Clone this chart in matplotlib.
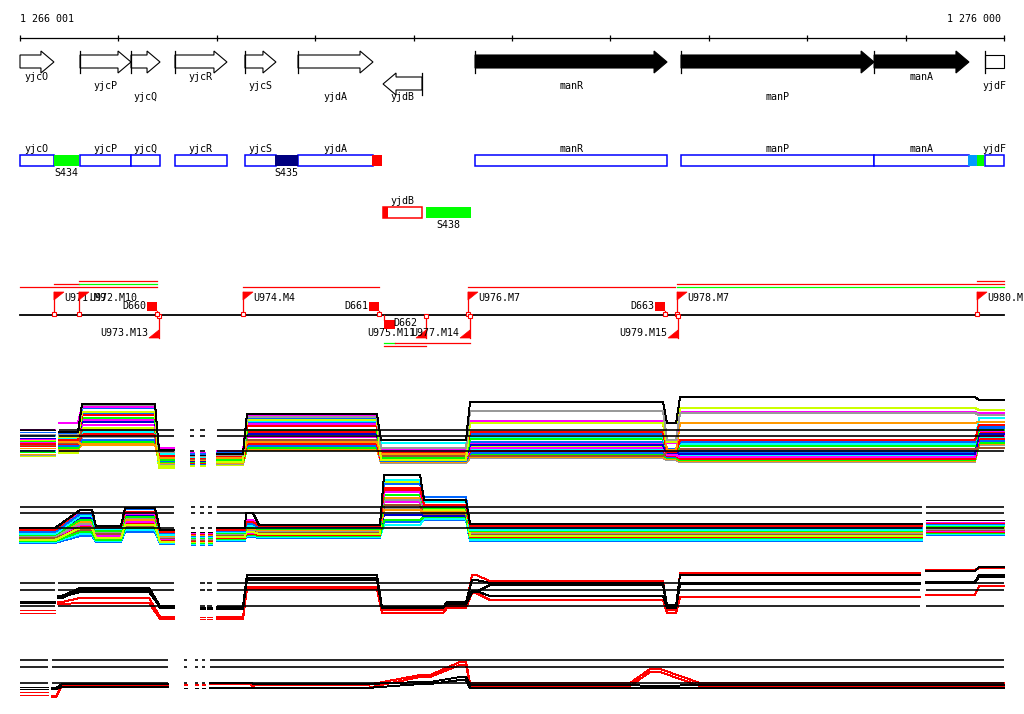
import numpy as np
import matplotlib.pyplot as plt
from matplotlib.patches import Polygon, Rectangle

### WINDOW ###
win_start, win_end = 1266001, 1276000

### GENES ###
gene_name = ["yjcO", "yjcP", "yjcQ", "yjcR", "yjcS", "yjdA", "yjdB", "manR", "manP", "manA", "yjdF"]
gene_start = [1265880, 1266611, 1267129, 1267576, 1268287, 1268826, 1269690, 1270625, 1272718, 1274680, 1275807]
gene_end = [1266346, 1267129, 1267424, 1268104, 1268602, 1269588, 1270086, 1272576, 1274680, 1275644, 1276350]
gene_strand = ["+", "+", "+", "+", "+", "+", "-", "+", "+", "+", "+"]
gene_fill = ["white"] * 7 + ["black"] * 3 + ["white"]
gene_label_row = [0, 1, 2, 0, 1, 2, 2, 1, 2, 0, 1]

### SEGMENT FEATURES ###
feat_name = ["S434", "S435", "", "", "S438", "", ""]
feat_start = [1266346, 1268592, 1269578, 1269690, 1270127, 1275634, 1275726]
feat_end = [1266600, 1268826, 1269679, 1269740, 1270584, 1275726, 1275797]
feat_color = ["#00ff00", "#000080", "#ff0000", "#ff0000", "#00ff00", "#0099ff", "#00ff00"]
feat_lane = [0, 0, 0, 1, 1, 0, 0]

### PROMOTERS / TERMINATORS ###
prom_name = ["U971.M9", "U972.M10", "U973.M13", "U974.M4", "U975.M11",
             "U976.M7", "U977.M14", "U978.M7", "U979.M15", "U980.M16"]
prom_pos = [1266346, 1266600, 1267413, 1268267, 1270127,
            1270553, 1270574, 1272678, 1272688, 1275726]
prom_strand = ["+", "+", "-", "+", "-", "+", "-", "+", "-", "+"]

term_name = ["D660", "D661", "D662", "D663"]
term_pos = [1267393, 1269649, 1269700, 1272556]
term_strand = ["+", "+", "-", "+"]

# transcription units (level 0-2 above the line, 3-4 below)
tx_start = [1266001, 1266346, 1266600, 1266600, 1268267, 1270553, 1272678, 1272678, 1275726, 1269700, 1269812, 1269700]
tx_end = [1267393, 1266600, 1267393, 1267393, 1269649, 1272660, 1276000, 1276000, 1276000, 1269812, 1270574, 1270127]
tx_level = [2, 1, 1, 0, 2, 2, 1, 2, 0, 3, 3, 4]
tx_color = ["#ff0000", "#ff0000", "#00ff00", "#ff0000", "#ff0000", "#ff0000",
            "#ff0000", "#00ff00", "#ff0000", "#00ff00", "#ff0000", "#ff0000"]

### EXPRESSION TRACKS ###
# track A: many conditions
a_x0 = [1266001, 1266397, 1266631, 1267413, 1267729, 1267830, 1268003, 1268307, 1269669, 1270574, 1272576, 1272708, 1275746]
a_x1 = [1266357, 1266590, 1267373, 1267566, 1267769, 1267881, 1268267, 1269628, 1270533, 1272535, 1272668, 1275705, 1276000]
a_grp = [0, 1, 1, 1, 2, 3, 4, 4, 4, 4, 4, 4, 4]
a_refs = [40, 34, 19]
a_lines = [
    ("#000000", [40, 38, 66, 20, 15, 15, 16, 56, 30, 68, 47, 73, 70]),
    ("#999999", [36, 35, 65, 18, 14, 14, 15, 53, 22, 59, 30, 57, 55]),
    ("#ccff00", [30, 33, 58, 4, 5, 5, 8, 50, 10, 47, 28, 62, 60]),
    ("#ff00ff", [41, 47, 63, 22, 18, 18, 19, 54, 20, 49, 27, 58, 57]),
    ("#ff9900", [22, 28, 25, 12, 10, 10, 12, 28, 16, 47, 20, 47, 48]),
    ("#ff0000", [27, 30, 55, 14, 12, 12, 14, 44, 17, 38, 18, 30, 45]),
    ("#0066ff", [38, 35, 62, 19, 16, 16, 17, 52, 21, 36, 21, 28, 44]),
    ("#00ffff", [34, 32, 58, 16, 13, 13, 15, 49, 27, 33, 20, 26, 52]),
    ("#00ff00", [29, 31, 52, 10, 8, 8, 10, 40, 12, 31, 19, 24, 40]),
    ("#a0522d", [25, 27, 40, 17, 11, 11, 13, 30, 14, 14, 18, 21, 22]),
    ("#0000cc", [32, 34, 48, 15, 9, 9, 12, 36, 13, 25, 17, 16, 36]),
    ("#ff00ff", [28, 30, 45, 13, 14, 14, 11, 33, 11, 22, 15, 13, 34]),
    ("#ff0000", [24, 26, 35, 11, 7, 7, 9, 26, 10, 19, 14, 11, 31]),
    ("#0066ff", [20, 24, 30, 9, 6, 6, 10, 24, 9, 17, 13, 18, 29]),
    ("#00ff00", [18, 22, 28, 8, 12, 12, 8, 22, 13, 15, 12, 10, 27]),
    ("#ff9900", [16, 20, 26, 7, 9, 9, 7, 20, 8, 13, 11, 9, 26]),
    ("#999999", [15, 19, 33, 6, 7, 7, 6, 21, 7, 12, 10, 8, 25]),
    ("#00ffff", [19, 23, 38, 5, 10, 10, 9, 23, 9, 20, 12, 14, 33]),
    ("#ccff00", [14, 17, 42, 2, 4, 4, 5, 27, 15, 24, 16, 12, 40]),
    ("#ff00ff", [31, 29, 50, 12, 16, 16, 14, 46, 18, 26, 17, 15, 39]),
    ("#ff0000", [26, 25, 37, 15, 13, 13, 12, 38, 12, 16, 13, 12, 37]),
    ("#0066ff", [35, 37, 56, 21, 17, 17, 18, 47, 19, 28, 16, 19, 42]),
]

# track B: many conditions
b_x0 = [1266001, 1266611, 1266773, 1267068, 1267424, 1267739, 1267830, 1267911, 1268003, 1268297, 1268430, 1269700, 1270107, 1270574, 1275207]
b_x1 = [1266357, 1266733, 1267027, 1267373, 1267566, 1267779, 1267871, 1267952, 1268287, 1268368, 1269659, 1270066, 1270533, 1275166, 1276000]
b_grp = [0, 0, 0, 0, 0, 1, 2, 3, 4, 4, 4, 4, 4, 4, 5]
b_refs = [43, 37, 22]
b_lines = [
    ("#000000", [22, 40, 24, 42, 20, 18, 18, 18, 22, 37, 25, 75, 50, 26, 30]),
    ("#ff0000", [20, 40, 23, 38, 18, 16, 16, 16, 20, 28, 24, 62, 45, 24, 27]),
    ("#0066ff", [18, 36, 22, 41, 17, 14, 14, 14, 19, 26, 23, 66, 53, 22, 26]),
    ("#00ffff", [16, 34, 21, 42, 15, 13, 13, 13, 18, 24, 22, 70, 48, 20, 25]),
    ("#ff00ff", [21, 37, 23, 36, 19, 17, 17, 17, 21, 30, 25, 58, 44, 24, 28]),
    ("#00ff00", [15, 30, 19, 33, 16, 12, 12, 12, 17, 22, 21, 55, 42, 19, 24]),
    ("#ccff00", [10, 22, 12, 25, 8, 8, 8, 8, 13, 18, 16, 68, 40, 14, 22]),
    ("#ff9900", [17, 28, 20, 30, 14, 15, 15, 15, 18, 21, 20, 40, 38, 18, 23]),
    ("#999999", [14, 26, 18, 32, 13, 11, 11, 11, 16, 20, 19, 50, 41, 17, 21]),
    ("#a0522d", [12, 20, 16, 24, 12, 10, 10, 10, 15, 18, 18, 45, 36, 16, 20]),
    ("#0000cc", [19, 32, 20, 35, 15, 14, 14, 14, 17, 23, 22, 35, 34, 21, 26]),
    ("#ff00ff", [13, 25, 14, 28, 11, 12, 12, 12, 14, 17, 17, 48, 37, 15, 19]),
    ("#ff0000", [11, 24, 13, 27, 10, 9, 9, 9, 12, 16, 15, 60, 39, 13, 18]),
    ("#00ff00", [9, 18, 10, 22, 9, 7, 7, 7, 11, 15, 14, 30, 33, 12, 17]),
    ("#00ffff", [8, 16, 9, 20, 7, 6, 6, 6, 10, 14, 13, 25, 31, 10, 16]),
    ("#0066ff", [7, 14, 8, 18, 6, 5, 5, 5, 9, 13, 12, 28, 30, 9, 15]),
    ("#ff9900", [13, 21, 15, 26, 12, 13, 13, 13, 14, 19, 18, 52, 35, 15, 21]),
    ("#999999", [10, 17, 11, 23, 9, 9, 9, 9, 12, 16, 16, 42, 32, 11, 18]),
]

# track C: black / red replicates
c_x0 = [1266001, 1266387, 1266611, 1267424, 1267830, 1267901, 1268003, 1268307, 1269679, 1270340, 1270594, 1270777, 1272576, 1272708, 1275207, 1275746]
c_x1 = [1266357, 1266427, 1267312, 1267566, 1267881, 1267952, 1268267, 1269628, 1270300, 1270533, 1270635, 1272535, 1272668, 1275146, 1275705, 1276000]
c_grp = [0, 1, 1, 1, 2, 3, 4, 4, 4, 4, 4, 4, 4, 4, 5, 5]
c_refs = [42, 35, 19]
c_lines = [
    ("#000000", [24, 29, 37, 19, 18, 18, 18, 50, 18, 23, 45, 42, 20, 50, 54, 58]),
    ("#000000", [22, 27, 35, 17, 16, 16, 16, 47, 17, 21, 33, 40, 18, 42, 43, 50]),
    ("#000000", [23, 28, 33, 18, 17, 17, 17, 45, 17, 22, 34, 29, 17, 41, 42, 48]),
    ("#ff0000", [15, 23, 27, 8, 8, 8, 8, 38, 15, 19, 50, 44, 15, 52, 55, 57]),
    ("#ff0000", [12, 21, 22, 6, 6, 6, 6, 36, 12, 17, 32, 25, 12, 28, 30, 39]),
]

# track D: black / red replicates
d_x0 = [1266001, 1266326, 1266427, 1267667, 1267779, 1267850, 1267932, 1268388, 1270066, 1270472, 1270574, 1272404, 1272911]
d_x1 = [1266286, 1266367, 1267505, 1267698, 1267810, 1267881, 1268338, 1269527, 1270168, 1270533, 1272200, 1272505, 1276000]
d_grp = [0, 1, 1, 2, 3, 4, 5, 5, 5, 5, 5, 5, 5]
d_refs = [40, 33, 17]
d_lines = [
    ("#000000", [13, 12, 16, 12, 12, 12, 17, 16, 18, 23, 15, 14, 15]),
    ("#000000", [11, 11, 13, 12, 12, 12, 12, 12, 16, 20, 12, 12, 12]),
    ("#ff0000", [8, 4, 15, 16, 16, 16, 17, 15, 25, 38, 17, 31, 17]),
    ("#ff0000", [5, 3, 14, 15, 15, 15, 16, 12, 23, 35, 14, 28, 14]),
]

### FIGURE ###
plt.rcParams["font.family"] = "DejaVu Sans Mono"
FS = 7.2

fig = plt.figure(figsize=(10.24, 7.14), dpi=100)
ax = fig.add_axes([0, 0, 1, 1])
bpp = (win_end - win_start) / 984.0  # bp per pixel
ax.set_xlim(win_start - 20 * bpp, win_end + 20 * bpp)
ax.set_ylim(714, 0)
ax.axis("off")

# ruler
ax.plot([win_start, win_end], [38, 38], color="black", lw=0.9)
ticks = list(range(win_start, win_end, 1000)) + [win_end]
ax.vlines(ticks, 35, 41, color="black", lw=0.9)
ax.text(win_start, 19, f"{win_start:,}".replace(",", " "), fontsize=FS, va="center", ha="left")
ax.text(win_end - 3 * bpp, 19, f"{win_end:,}".replace(",", " "), fontsize=FS, va="center", ha="right")

# gene arrows
label_y = [77, 86, 97.5]
head = 13 * bpp
for name, s, e, st, fc, row in zip(gene_name, gene_start, gene_end, gene_strand, gene_fill, gene_label_row):
    off = 22 if st == "-" else 0
    bt, bb, ht, hb, mid = 55 + off, 68 + off, 51 + off, 73 + off, 62 + off
    vs, ve = max(s, win_start), min(e, win_end)
    if st == "+":
        if e <= win_end:
            pts = [(vs, bt), (ve - head, bt), (ve - head, ht), (ve, mid), (ve - head, hb), (ve - head, bb), (vs, bb)]
        else:
            pts = [(vs, bt), (ve, bt), (ve, bb), (vs, bb)]
        tick_x = s if s >= win_start else None
    else:
        pts = [(ve, bt), (vs + head, bt), (vs + head, ht), (vs, mid), (vs + head, hb), (vs + head, bb), (ve, bb)]
        tick_x = e
    ax.add_patch(Polygon(pts, closed=True, facecolor=fc, edgecolor="black", lw=0.8))
    if tick_x is not None:
        ax.plot([tick_x, tick_x], [ht, hb], color="black", lw=0.9)
    ax.text((vs + ve) / 2, label_y[row], name, fontsize=FS, ha="center", va="center")

# annotation boxes
lane_top = [155, 207]
box_h = 11
for name, s, e, st in zip(gene_name, gene_start, gene_end, gene_strand):
    vs, ve = max(s, win_start), min(e, win_end)
    lane = 1 if st == "-" else 0
    ec = "#ff0000" if st == "-" else "#0000ff"
    ax.add_patch(Rectangle((vs, lane_top[lane]), ve - vs, box_h, facecolor="white", edgecolor=ec, lw=1.1, zorder=2))
    ax.text((vs + ve) / 2, lane_top[lane] - 6, name, fontsize=FS, ha="center", va="center")
for name, s, e, c, lane in zip(feat_name, feat_start, feat_end, feat_color, feat_lane):
    ax.add_patch(Rectangle((s, lane_top[lane]), e - s, box_h, facecolor=c, edgecolor="none", zorder=3))
    if name:
        ax.text((s + e) / 2, lane_top[lane] + box_h + 7, name, fontsize=FS, ha="center", va="center")

# promoter / terminator line
line_y = 315
ax.plot([win_start, win_end], [line_y, line_y], color="black", lw=1.3, zorder=2)
red = "#ff0000"
fw = 10 * bpp
for name, p, st in zip(prom_name, prom_pos, prom_strand):
    if st == "+":
        ax.plot([p, p], [line_y, 292], color=red, lw=0.9, zorder=3)
        ax.add_patch(Polygon([(p, 292), (p + fw, 292), (p, 300)], closed=True, facecolor=red, edgecolor=red, lw=0.5, zorder=3))
        ax.add_patch(Rectangle((p - 2 * bpp, line_y - 3), 4 * bpp, 4, facecolor="white", edgecolor=red, lw=0.8, zorder=4))
        ax.text(p + fw, 298, name, fontsize=FS, ha="left", va="center")
    else:
        ax.plot([p, p], [line_y, 338], color=red, lw=0.9, zorder=3)
        ax.add_patch(Polygon([(p, 338), (p - fw, 338), (p, 330)], closed=True, facecolor=red, edgecolor=red, lw=0.5, zorder=3))
        ax.add_patch(Rectangle((p - 2 * bpp, line_y - 1), 4 * bpp, 4, facecolor="white", edgecolor=red, lw=0.8, zorder=4))
        ax.text(p - fw - bpp, 333, name, fontsize=FS, ha="right", va="center")
for name, p, st in zip(term_name, term_pos, term_strand):
    if st == "+":
        ax.add_patch(Rectangle((p - 10 * bpp, 302), 10 * bpp, 9, facecolor=red, edgecolor="none", zorder=3))
        ax.plot([p, p], [311, line_y], color=red, lw=0.9, zorder=3)
        ax.add_patch(Rectangle((p - 2 * bpp, line_y - 3), 4 * bpp, 4, facecolor="white", edgecolor=red, lw=0.8, zorder=4))
        ax.text(p - 11 * bpp, 306, name, fontsize=FS, ha="right", va="center")
    else:
        ax.add_patch(Rectangle((p, 320), 11 * bpp, 9, facecolor=red, edgecolor="none", zorder=3))
        ax.plot([p, p], [line_y, 320], color=red, lw=0.9, zorder=3)
        ax.text(p + 9 * bpp, 323, name, fontsize=FS, ha="left", va="center")
tx_y = [281, 284, 287, 343, 346]
for s, e, lev, c in zip(tx_start, tx_end, tx_level, tx_color):
    ax.plot([s, e], [tx_y[lev]] * 2, color=c, lw=0.9)


def draw_track(x0, x1, grp, lines, refs, floor):
    x0, x1, grp = np.array(x0), np.array(x1), np.array(grp)
    n = len(lines)
    for i, (color, vals) in enumerate(lines):
        vals = np.array(vals, float)
        for g in np.unique(grp):
            m = grp == g
            xs = np.column_stack([x0[m], x1[m]]).ravel()
            ys = floor - np.repeat(vals[m], 2)
            ax.plot(xs, ys, color=color, lw=0.7, antialiased=False, zorder=5 + n - i)
    for g in np.unique(grp):
        m = grp == g
        for r in refs:
            ax.plot([x0[m].min(), x1[m].max()], [floor - r] * 2, color="black", lw=1.2,
                    solid_capstyle="butt", zorder=40)


draw_track(a_x0, a_x1, a_grp, a_lines, a_refs, 470)
draw_track(b_x0, b_x1, b_grp, b_lines, b_refs, 550)
draw_track(c_x0, c_x1, c_grp, c_lines, c_refs, 625)
draw_track(d_x0, d_x1, d_grp, d_lines, d_refs, 700)

plt.savefig("out.png", dpi=100)
